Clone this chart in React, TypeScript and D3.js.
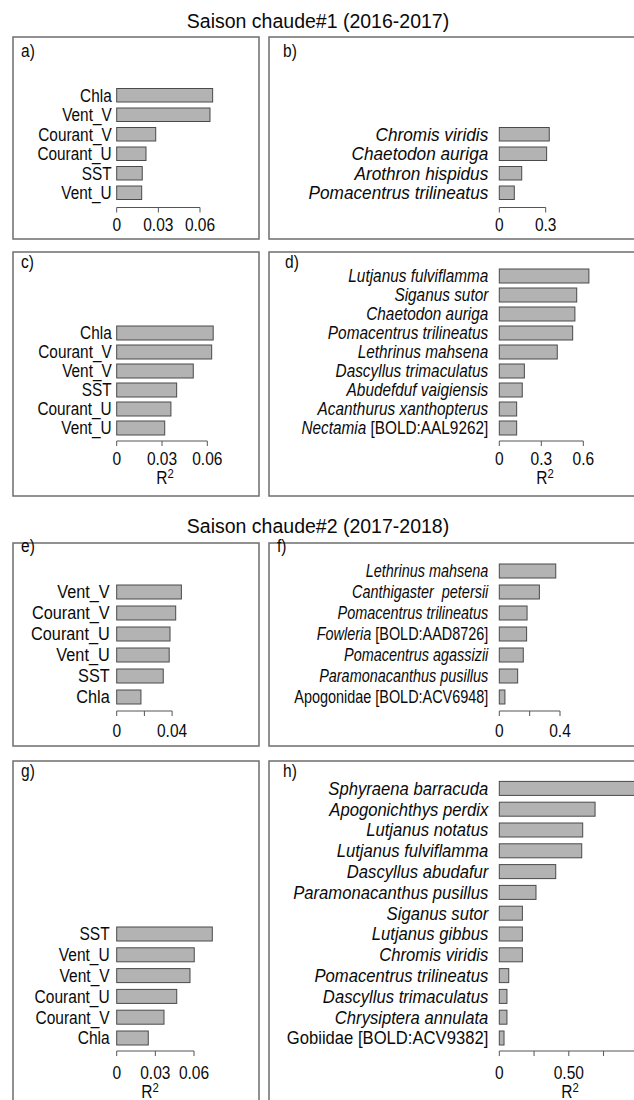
import React from 'react';
import * as d3 from 'd3';

// Saison chaude #1 (2016-2017)
const aLabels = ['Chla', 'Vent_V', 'Courant_V', 'Courant_U', 'SST', 'Vent_U'];
const aValues = [0.0691, 0.0672, 0.0281, 0.0211, 0.0184, 0.018];
const aTicks = [0, 0.03, 0.06];
const aTickLabels = ['0', '0.03', '0.06'];

const bLabels = ['Chromis viridis', 'Chaetodon auriga', 'Arothron hispidus', 'Pomacentrus trilineatus'];
const bValues = [0.323, 0.306, 0.145, 0.097];
const bTicks = [0, 0.3];
const bTickLabels = ['0', '0.3'];

const cLabels = ['Chla', 'Courant_V', 'Vent_V', 'SST', 'Courant_U', 'Vent_U'];
const cValues = [0.0639, 0.0629, 0.0507, 0.0397, 0.0359, 0.0318];
const cTicks = [0, 0.03, 0.06];
const cTickLabels = ['0', '0.03', '0.06'];

const dLabels = [
  'Lutjanus fulviflamma', 'Siganus sutor', 'Chaetodon auriga', 'Pomacentrus trilineatus',
  'Lethrinus mahsena', 'Dascyllus trimaculatus', 'Abudefduf vaigiensis',
  'Acanthurus xanthopterus', 'Nectamia [BOLD:AAL9262]',
];
const dValues = [0.64, 0.553, 0.54, 0.524, 0.414, 0.179, 0.164, 0.124, 0.124];
const dTicks = [0, 0.3, 0.6];
const dTickLabels = ['0', '0.3', '0.6'];

// Saison chaude #2 (2017-2018)
const eLabels = ['Vent_V', 'Courant_V', 'Courant_U', 'Vent_U', 'SST', 'Chla'];
const eValues = [0.0467, 0.0426, 0.0385, 0.0379, 0.0336, 0.0175];
const eTicks = [0, 0.02, 0.04];
const eTickLabels = ['0', '', '0.04'];

const fLabels = [
  'Lethrinus mahsena', 'Canthigaster  petersii', 'Pomacentrus trilineatus',
  'Fowleria [BOLD:AAD8726]', 'Pomacentrus agassizii', 'Paramonacanthus pusillus',
  'Apogonidae [BOLD:ACV6948]',
];
const fValues = [0.372, 0.264, 0.183, 0.18, 0.158, 0.121, 0.037];
const fTicks = [0, 0.2, 0.4];
const fTickLabels = ['0', '', '0.4'];

const gLabels = ['SST', 'Vent_U', 'Vent_V', 'Courant_U', 'Courant_V', 'Chla'];
const gValues = [0.0742, 0.0602, 0.0569, 0.0466, 0.0367, 0.0245];
const gTicks = [0, 0.03, 0.06];
const gTickLabels = ['0', '0.03', '0.06'];

const hLabels = [
  'Sphyraena barracuda', 'Apogonichthys perdix', 'Lutjanus notatus', 'Lutjanus fulviflamma',
  'Dascyllus abudafur', 'Paramonacanthus pusillus', 'Siganus sutor', 'Lutjanus gibbus',
  'Chromis viridis', 'Pomacentrus trilineatus', 'Dascyllus trimaculatus',
  'Chrysiptera annulata', 'Gobiidae [BOLD:ACV9382]',
];
const hValues = [0.98, 0.689, 0.6, 0.593, 0.406, 0.264, 0.166, 0.166, 0.166, 0.068, 0.055, 0.055, 0.034];
const hTicks = [0, 0.25, 0.5, 0.75, 1];
const hTickLabels = ['0', '', '0.50', '', ''];

const titles = ['Saison chaude#1 (2016-2017)', 'Saison chaude#2 (2017-2018)'];

const FONT = "'Liberation Sans', Arial, Helvetica, sans-serif";
const SX = 0.84; // condensed look for ticks / tags
const FS = 18.5;

// layout per row
const rows = [
  { top: 37, bottom: 239, step: 19.5, barH: 13.5, lastBottom: 199.5, axisY: 207.5, tagY: 57, tickDy: 23, rDy: 43 },
  { top: 252, bottom: 496, step: 19, barH: 14, lastBottom: 435, axisY: 441, tagY: 268, tickDy: 24, rDy: 43 },
  { top: 543, bottom: 746, step: 21, barH: 14, lastBottom: 704, axisY: 711, tagY: 552, tickDy: 26, rDy: 45 },
  { top: 761, bottom: 1120, step: 20.8, barH: 14, lastBottom: 1045, axisY: 1051, tagY: 777, tickDy: 28, rDy: 47 },
];

const LEFT = { x0: 13, x1: 259, barX: 116.7 };
const RIGHT = { x0: 269, x1: 660, barX: 499.3 };

type Spec = {
  tag: string; row: number; side: 'L' | 'R'; italic: boolean;
  labels: string[]; values: number[]; ticks: number[]; tickLabels: string[];
  span: number; xlabX: number | null; sx: number; gap: number; tagX: number;
};

const panels: Spec[] = [
  { tag: 'a)', row: 0, side: 'L', italic: false, labels: aLabels, values: aValues, ticks: aTicks, tickLabels: aTickLabels, span: 83.3, xlabX: null, sx: 0.83, gap: 5, tagX: 21 },
  { tag: 'b)', row: 0, side: 'R', italic: true, labels: bLabels, values: bValues, ticks: bTicks, tickLabels: bTickLabels, span: 46.4, xlabX: null, sx: 0.93, gap: 11, tagX: 283 },
  { tag: 'c)', row: 1, side: 'L', italic: false, labels: cLabels, values: cValues, ticks: cTicks, tickLabels: cTickLabels, span: 90.6, xlabX: 165, sx: 0.83, gap: 5, tagX: 21 },
  { tag: 'd)', row: 1, side: 'R', italic: true, labels: dLabels, values: dValues, ticks: dTicks, tickLabels: dTickLabels, span: 84, xlabX: 545, sx: 0.83, gap: 11, tagX: 285 },
  { tag: 'e)', row: 2, side: 'L', italic: false, labels: eLabels, values: eValues, ticks: eTicks, tickLabels: eTickLabels, span: 55.4, xlabX: null, sx: 0.88, gap: 7, tagX: 21 },
  { tag: 'f)', row: 2, side: 'R', italic: true, labels: fLabels, values: fValues, ticks: fTicks, tickLabels: fTickLabels, span: 60.7, xlabX: null, sx: 0.78, gap: 11, tagX: 277 },
  { tag: 'g)', row: 3, side: 'L', italic: false, labels: gLabels, values: gValues, ticks: gTicks, tickLabels: gTickLabels, span: 77.3, xlabX: 150, sx: 0.84, gap: 7, tagX: 21 },
  { tag: 'h)', row: 3, side: 'R', italic: true, labels: hLabels, values: hValues, ticks: hTicks, tickLabels: hTickLabels, span: 139, xlabX: 570, sx: 0.9, gap: 11, tagX: 283 },
];

const T = ({ x, y, anchor = 'start', size = FS, sx = SX, children }: any) => (
  <g transform={`translate(${x},${y}) scale(${sx},1)`}>
    <text textAnchor={anchor} fontSize={size} fill="#0a0a0a">{children}</text>
  </g>
);

const speciesLabel = (s: string) => {
  const i = s.indexOf(' [');
  if (i < 0) return <tspan fontStyle="italic">{s.replace('  ', '\u00a0 ')}</tspan>;
  const genus = s.slice(0, i);
  if (genus.endsWith('idae')) return <tspan>{s}</tspan>;
  return (
    <>
      <tspan fontStyle="italic">{genus}</tspan>
      <tspan>{s.slice(i)}</tspan>
    </>
  );
};

const Panel = ({ p }: { p: Spec }) => {
  const r = rows[p.row];
  const side = p.side === 'L' ? LEFT : RIGHT;
  const maxTick = p.ticks[p.ticks.length - 1];
  const x = d3.scaleLinear().domain([0, maxTick]).range([side.barX, side.barX + p.span]);
  const pad = 1 - r.barH / r.step;
  const end = r.lastBottom + (r.step * pad) / 2;
  const y = d3.scaleBand<string>()
    .domain(p.labels)
    .range([end - p.labels.length * r.step, end])
    .paddingInner(pad)
    .paddingOuter(pad / 2);
  return (
    <g>
      <rect x={side.x0} y={r.top} width={side.x1 - side.x0} height={r.bottom - r.top}
        fill="none" stroke="#6e6e6e" strokeWidth={1.5} />
      <T x={p.tagX} y={r.tagY}>{p.tag}</T>
      {p.labels.map((l, i) => (
        <g key={l + i}>
          <rect x={x(0)} y={y(l)!} width={x(p.values[i]) - x(0)} height={y.bandwidth()}
            fill="#b3b3b3" stroke="#4a4a4a" strokeWidth={1} />
          <T x={x(0) - p.gap} y={y(l)! + y.bandwidth() / 2 + 6.4} anchor="end" sx={p.sx}>
            {p.italic ? speciesLabel(l) : l}
          </T>
        </g>
      ))}
      <line x1={x(p.ticks[0])} x2={x(maxTick)} y1={r.axisY} y2={r.axisY} stroke="#555" strokeWidth={1} />
      {p.ticks.map((t, i) => (
        <g key={'t' + i}>
          <line x1={x(t)} x2={x(t)} y1={r.axisY} y2={r.axisY + 5} stroke="#555" strokeWidth={1} />
          {p.tickLabels[i] && (
            <T x={x(t)} y={r.axisY + r.tickDy} anchor="middle">{p.tickLabels[i]}</T>
          )}
        </g>
      ))}
      {p.xlabX !== null && (
        <T x={p.xlabX} y={r.axisY + r.rDy} anchor="middle">
          R<tspan fontSize={13.5} dy={-6}>2</tspan>
        </T>
      )}
    </g>
  );
};

export default function App() {
  return (
    <svg width={634} height={1100} style={{ position: 'absolute', left: 0, top: 0, background: '#fff' }}
      fontFamily={FONT}>
      <rect width={634} height={1100} fill="#fff" />
      <text x={318} y={28} textAnchor="middle" fontSize={19.5} fill="#0a0a0a">{titles[0]}</text>
      <text x={318} y={533} textAnchor="middle" fontSize={19.5} fill="#0a0a0a">{titles[1]}</text>
      {panels.map((p) => <Panel key={p.tag} p={p} />)}
    </svg>
  );
}
